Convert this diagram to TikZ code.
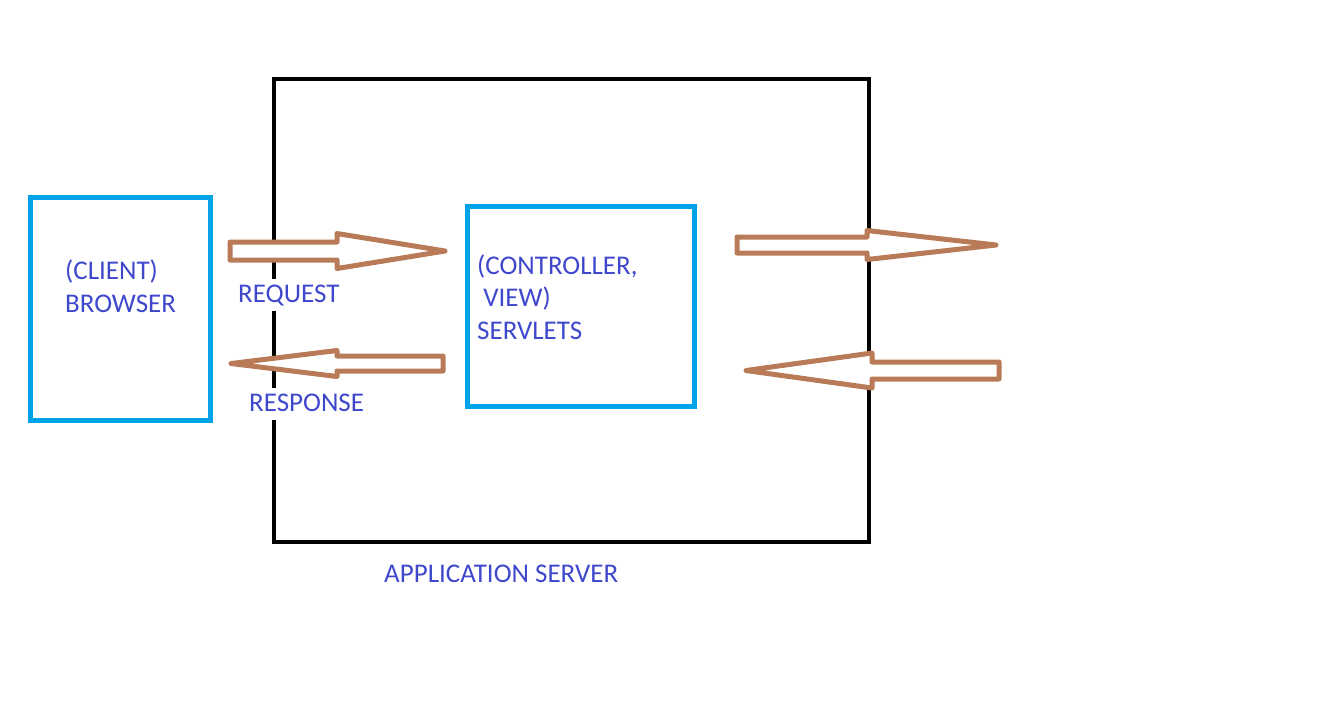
\documentclass[tikz,border=0pt]{standalone}
\usepackage{fontspec}
\setmainfont{Carlito}
\usepackage{tikz}
\usetikzlibrary{calc}
\definecolor{boxblue}{HTML}{00A2E8}
\definecolor{inkblue}{HTML}{3F48CC}
\definecolor{flowbrown}{HTML}{B97A57}
\def\fatarrow(#1)(#2)(#3)#4#5{
    \draw [flow] ($(#1)+(0,-#4)$) -- ($(#2)+(0,-#4)$) -- ($(#2)+(0,-#5)$) -- (#3)
        -- ($(#2)+(0,#5)$) -- ($(#2)+(0,#4)$) -- ($(#1)+(0,#4)$) -- cycle;
}
\tikzstyle{every node}=[font=\fontsize{27}{32.5}\selectfont, text=inkblue]

\begin{document}
\begin{tikzpicture}[x=1pt, y=-1pt,
        flow/.style={draw=flowbrown, line width=5pt, fill=white, line join=round},
        serverbox/.style={draw=black, line width=4pt, inner sep=0pt},
        partbox/.style={draw=boxblue, line width=5pt, inner sep=0pt},
        caption/.style={anchor=base west, inner sep=0pt, align=left},
        tag/.style={anchor=base west, fill=white, inner sep=3pt, text height=20pt, text depth=6pt}]
            \useasboundingbox (0,0) rectangle (1340,705);

            \node [serverbox, minimum width=595, minimum height=463] (server) at (571.5,310.5) {};

            \node [tag] (request) at (235,302) {REQUEST};
            \node [tag] (response) at (246,411) {RESPONSE};

            \coordinate (reqtail) at (230,251);
            \coordinate (reqbase) at (337,251);
            \coordinate (reqtip) at (445,251);

            \coordinate (resptail) at (443,363.5);
            \coordinate (respbase) at (337,363.5);
            \coordinate (resptip) at (231,363.5);

            \coordinate (outtail) at (737,245);
            \coordinate (outbase) at (867,245);
            \coordinate (outtip) at (996,245);

            \coordinate (backtail) at (999,370.5);
            \coordinate (backbase) at (872,370.5);
            \coordinate (backtip) at (746,370.5);

            \fatarrow(reqtail)(reqbase)(reqtip){9}{17.5}
            \fatarrow(resptail)(respbase)(resptip){7.5}{13}
            \fatarrow(outtail)(outbase)(outtip){8}{14.5}
            \fatarrow(backtail)(backbase)(backtip){8.5}{17.5}

            \node [partbox, minimum width=180, minimum height=223] (client) at (120.5,309) {};
            \node [partbox, minimum width=227, minimum height=200] (servlets) at (581,306.5) {};

            % base of a multi-line node is its last line
            \node [caption] (clientname) at (65,312) {(CLIENT)\\BROWSER};
            \node [caption] (servletname) at (477,339) {(CONTROLLER,\\\ VIEW)\\SERVLETS};
            \node [caption] (servername) at (384,582) {APPLICATION SERVER};
\end{tikzpicture}
\end{document}
